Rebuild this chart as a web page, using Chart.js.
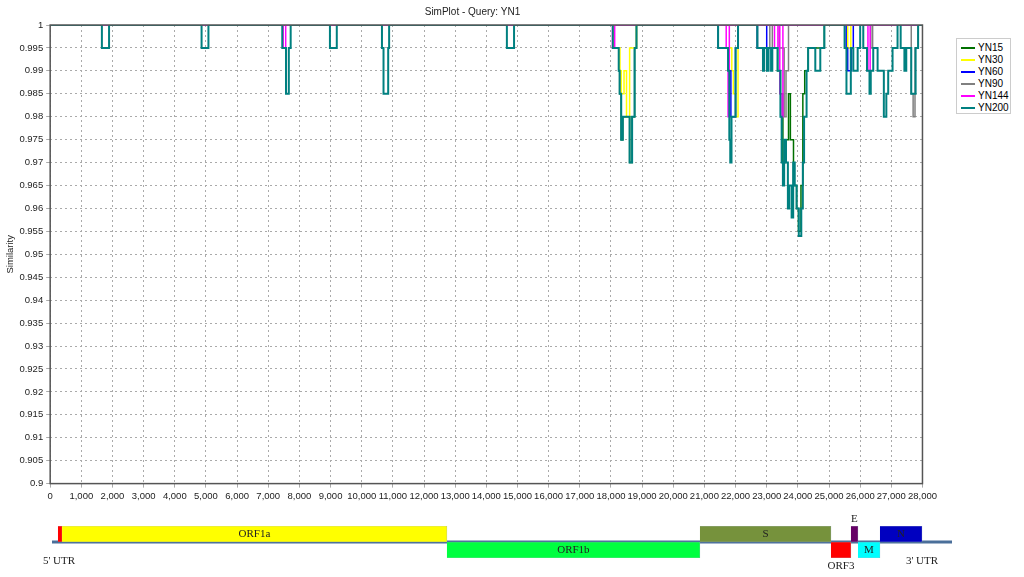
<!DOCTYPE html>
<html><head><meta charset="utf-8">
<script src="https://cdn.jsdelivr.net/npm/chart.js@4.4.1/dist/chart.umd.min.js"></script>
<style>
body{margin:0;background:#fff;width:1024px;height:577px;overflow:hidden;position:relative;font-family:"Liberation Sans",sans-serif}
#c1{position:absolute;left:0;top:0}
#c2{position:absolute;left:0;top:512px}
#leg{position:absolute;left:956px;top:38px;width:55px;height:76px;border:1px solid #ccc;font-size:10px;padding-top:3px;box-sizing:border-box}
#leg div{height:12px;line-height:12px;white-space:nowrap}
#leg span{display:inline-block;width:14px;height:2px;vertical-align:middle;margin:0 3px 0 4px}
</style></head><body>
<canvas id="c1" width="940" height="505"></canvas>
<canvas id="c2" width="1024" height="65"></canvas>
<div id="leg"></div>
<script>
const seriesNames=["YN15","YN30","YN60","YN90","YN144","YN200"];
const seriesColors=["#007000","#ffff00","#0000ff","#808080","#ff00ff","#008080"];
// [position, similarity] step segments
const YN15=[[0,1],[18060,0.995],[18250,0.99],[18280,0.985],[18330,0.975],[18380,0.98],[18560,0.98],[18600,0.97],[18680,0.98],[18760,0.995],[18820,1],
 [22700,0.995],[23350,0.99],[23440,0.985],[23520,0.97],[23600,0.975],[23700,0.985],[23760,0.975],[23860,0.965],[23960,0.96],[24020,0.955],[24100,0.965],[24160,0.985],[24220,0.99],[24330,0.995],[24850,1],[28000,1]];
const YN30=[[0,1],[18080,0.995],[18290,0.99],[18330,0.985],[18420,0.99],[18500,0.98],[18600,0.995],[18820,1],
 [21440,0.995],[21880,0.99],[21930,0.985],[22000,0.98],[22080,1],
 [25600,0.995],[25700,1],[28000,1]];
const YN60=[[0,1],[21440,0.995],[21780,0.99],[21850,0.98],[22000,0.995],[22080,1],
 [22700,0.995],[23000,1],[25550,0.995],[25600,0.99],[25720,0.995],[25780,1],[28000,1]];
const YN90=[[0,1],[23100,0.995],[23180,1],[23400,0.995],[23560,0.98],[23620,0.99],[23700,1],
 [26340,0.995],[26400,1],[27640,0.985],[27700,0.98],[27760,0.995],[27860,1],[28000,1]];
const YN144=[[0,1],[7480,0.995],[7560,1],[18050,0.995],[18120,1],[21700,0.995],[21760,0.98],[21800,1],
 [23250,0.995],[23360,1],[23420,0.985],[23460,0.98],[23520,1],[26250,0.99],[26320,1],[28000,1]];
const YN200=[[0,1],[1660,0.995],[1890,1],[4860,0.995],[5080,1],
 [7450,0.995],[7570,0.985],[7660,0.995],[7720,1],[8980,0.995],[9200,1],
 [10650,0.995],[10700,0.985],[10850,0.995],[10880,1],[14660,0.995],[14890,1],
 [18060,0.995],[18250,0.99],[18280,0.985],[18330,0.975],[18380,0.98],[18560,0.98],[18600,0.97],[18680,0.98],[18760,0.995],[18820,1],
 [21440,0.995],[21760,0.99],[21800,0.975],[21830,0.97],[21870,0.98],[22000,0.995],[22080,1],
 [22700,0.995],[22880,0.99],[22920,0.995],[23010,0.99],[23060,0.995],[23140,0.99],[23180,0.995],[23350,0.99],[23440,0.98],[23480,0.97],[23520,0.965],[23560,0.975],[23620,0.97],[23680,0.96],[23720,0.965],[23800,0.958],[23850,0.97],[23900,0.965],[23960,0.96],[24030,0.954],[24110,0.96],[24160,0.97],[24200,0.98],[24280,0.99],[24330,0.995],[24560,0.99],[24720,0.995],[24850,1],
 [25500,0.995],[25560,0.985],[25700,0.995],[25780,0.99],[25920,0.995],[26000,1],
 [26100,0.995],[26220,0.99],[26300,0.985],[26340,0.99],[26420,0.995],[26560,0.99],[26760,0.98],[26840,0.985],[26900,0.99],[27040,0.995],[27200,1],[27300,0.995],[27420,0.99],[27480,0.995],[27640,0.985],[27780,0.995],[27860,1],[28000,1]];
const seriesData=[YN15,YN30,YN60,YN90,YN144,YN200];
// genome map: [name, start, end, row, colour]
const genes=[["5' UTR-mark",190,320,"top","#ff0000"],["ORF1a",320,12580,"top","#ffff00"],["ORF1b",12580,20640,"bottom","#00ff40"],
 ["S",20640,24815,"top","#76923c"],["ORF3",24815,25450,"bottom","#ff0000"],["E",25450,25675,"top","#660066"],
 ["M",25675,26375,"bottom","#00ffff"],["N",26375,27715,"top","#0000c0"]];
const genomeLength=28670;

const leg=document.getElementById('leg');
seriesNames.forEach((n,i)=>{leg.innerHTML+=`<div><span style="background:${seriesColors[i]}"></span>${n}</div>`});

const border={id:'border',afterDraw(c){const a=c.chartArea,x=c.ctx;x.save();x.strokeStyle='#555';x.lineWidth=1.5;x.strokeRect(a.left,a.top,a.right-a.left,a.bottom-a.top);x.restore();}};
const tf={size:9.5,family:'Liberation Sans'};
new Chart(document.getElementById('c1'),{type:'line',
 data:{datasets:seriesData.map((d,i)=>({label:seriesNames[i],order:5-i,data:d.map(p=>({x:p[0],y:p[1]})),borderColor:seriesColors[i],borderWidth:i==5?2:1.5,stepped:'before',pointRadius:0,fill:false}))},
 options:{responsive:false,animation:false,layout:{padding:{top:0,right:0,left:5,bottom:0}},
  plugins:{legend:{display:false},tooltip:{enabled:false},title:{display:true,text:'SimPlot - Query: YN1',color:'#222',font:{size:10,family:'Liberation Sans',weight:'normal'},padding:{top:6,bottom:7}}},
  scales:{x:{type:'linear',min:0,max:28000,grid:{color:'#aaa',tickLength:4},border:{display:false,dash:[2,3]},
    ticks:{stepSize:1000,color:'#222',font:tf,maxRotation:0,autoSkip:false,callback:v=>v.toLocaleString('en-US')}},
   y:{min:0.9,max:1,grid:{color:'#aaa',tickLength:4},border:{display:false,dash:[2,3]},
    title:{display:true,text:'Similarity',color:'#222',font:tf,padding:0},
    ticks:{stepSize:0.005,color:'#222',font:tf,autoSkip:false,callback:v=>String(+v.toFixed(3))}}}},
 plugins:[border]});

const rows=["top","bottom"];
const mapDeco={id:'mapDeco',
 beforeDatasetsDraw(c){const x=c.ctx,xs=c.scales.x,ys=c.scales.y;const yb=(ys.getPixelForValue(0)+ys.getPixelForValue(1))/2;
  x.save();x.strokeStyle='#4a6f9a';x.lineWidth=3;x.beginPath();x.moveTo(xs.getPixelForValue(0),yb);x.lineTo(xs.getPixelForValue(genomeLength),yb);x.stroke();x.restore();},
 afterDatasetsDraw(c){const x=c.ctx,xs=c.scales.x,ys=c.scales.y;x.save();x.fillStyle='#222';x.font='11px "Liberation Serif"';x.textAlign='center';x.textBaseline='middle';
  genes.forEach(g=>{const cx=xs.getPixelForValue((g[1]+g[2])/2),cy=ys.getPixelForValue(rows.indexOf(g[3]));
   if(g[0]=="E"){x.fillText('E',cx,cy-15);}else if(g[0]=="ORF3"){x.fillText('ORF3',cx,cy+16);}else if(!g[0].includes('mark'))x.fillText(g[0],cx,cy);});
  const yb=ys.getPixelForValue(1)+11;x.fillText("5' UTR",xs.getPixelForValue(0)+7,yb);x.fillText("3' UTR",xs.getPixelForValue(genomeLength)-30,yb);x.restore();}};
new Chart(document.getElementById('c2'),{type:'bar',
 data:{labels:rows,datasets:[{data:genes.map(g=>({x:[g[1],g[2]],y:g[3]})),backgroundColor:genes.map(g=>g[4]),borderColor:'#9ab',borderWidth:0.5,barPercentage:1,categoryPercentage:1}]},
 options:{indexAxis:'y',responsive:false,animation:false,layout:{padding:{left:52,right:72,top:14,bottom:19}},
  plugins:{legend:{display:false},tooltip:{enabled:false}},
  scales:{x:{type:'linear',min:0,max:genomeLength,display:false},y:{display:false,grid:{display:false}}}},
 plugins:[mapDeco]});
</script></body></html>
